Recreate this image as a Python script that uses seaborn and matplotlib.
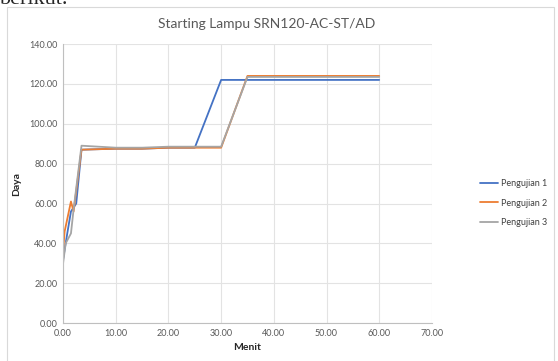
import numpy as np
import pandas as pd
import matplotlib
matplotlib.use("Agg")
import matplotlib.pyplot as plt
import seaborn as sns
from matplotlib.patches import Rectangle

# Data (minutes vs power)
menit_1 = [0.0, 0.8, 1.5, 2.5, 3.5, 10.0, 15.0, 20.0, 25.0, 30.0, 35.0, 60.0]
daya_1 = [32.0, 45.0, 56.0, 60.0, 87.0, 87.5, 87.5, 88.0, 88.0, 122.0, 122.0, 122.0]

menit_2 = [0.0, 0.3, 1.5, 2.0, 3.5, 10.0, 15.0, 20.0, 25.0, 30.0, 35.0, 60.0]
daya_2 = [36.0, 46.0, 61.0, 56.0, 87.0, 87.5, 87.5, 88.0, 88.0, 88.0, 124.0, 124.0]

menit_3 = [0.0, 0.5, 1.5, 2.0, 3.5, 10.0, 15.0, 20.0, 25.0, 30.0, 35.0, 60.0]
daya_3 = [30.0, 40.0, 45.0, 57.0, 89.0, 88.0, 88.0, 88.5, 88.5, 88.5, 123.5, 123.5]

series_names = ['Pengujian 1', 'Pengujian 2', 'Pengujian 3']
colors = ['#4472C4', '#ED7D31', '#A5A5A5']

frames = []
for name, x, y in zip(series_names, [menit_1, menit_2, menit_3], [daya_1, daya_2, daya_3]):
    frames.append(pd.DataFrame({'Menit': x, 'Daya': y, 'Seri': name}))
data = pd.concat(frames, ignore_index=True)

sns.set_style('white')
plt.rcParams['font.family'] = ['Lato', 'DejaVu Sans']
fig = plt.figure(figsize=(5.58, 3.61), dpi=100)
ax = fig.add_axes([0.113, 0.105, 0.661, 0.773])

sns.lineplot(data=data, x='Menit', y='Daya', hue='Seri', palette=colors,
             sort=False, estimator=None, linewidth=1.3, ax=ax)

ax.set_xlim(0, 70)
ax.set_ylim(0, 140)
ax.set_xticks(np.arange(0, 71, 10))
ax.set_yticks(np.arange(0, 141, 20))
ax.set_xticklabels([f'{v:.2f}' for v in np.arange(0, 71, 10)])
ax.set_yticklabels([f'{v:.2f}' for v in np.arange(0, 141, 20)])
ax.tick_params(labelsize=6.5, colors='#595959', length=0, pad=4)
ax.grid(True, color='#E3E3E3', linewidth=0.8)
ax.set_axisbelow(True)
for side in ['top', 'right']:
    ax.spines[side].set_visible(False)
for side in ['left', 'bottom']:
    ax.spines[side].set_color('#BFBFBF')
    ax.spines[side].set_linewidth(0.8)

ax.set_xlabel('Menit', fontsize=7.5, fontweight='bold', color='#262626')
ax.set_ylabel('Daya', fontsize=7.5, fontweight='bold', color='#262626', labelpad=6)

leg = ax.legend(loc='center left', bbox_to_anchor=(1.12, 0.43), frameon=False,
                fontsize=6.5, handlelength=2.0, handletextpad=0.4, labelspacing=1.2,
                borderaxespad=0.0)
for t in leg.get_texts():
    t.set_color('#404040')

fig.text(267 / 558, 1 - 24 / 361, 'Starting Lampu SRN120-AC-ST/AD',
         ha='center', va='center', fontsize=10, color='#595959')

# chart area border
fig.patches.append(Rectangle((7 / 558, -0.01), 547 / 558, 1 - 7 / 361 + 0.01,
                             transform=fig.transFigure, fill=False,
                             edgecolor='#D9D9D9', linewidth=0.8))
fig.text(0.0, 1.0, 'berikut.', fontsize=16, family='Liberation Serif',
         va='center', ha='left')

fig.savefig('out.png', dpi=100)
